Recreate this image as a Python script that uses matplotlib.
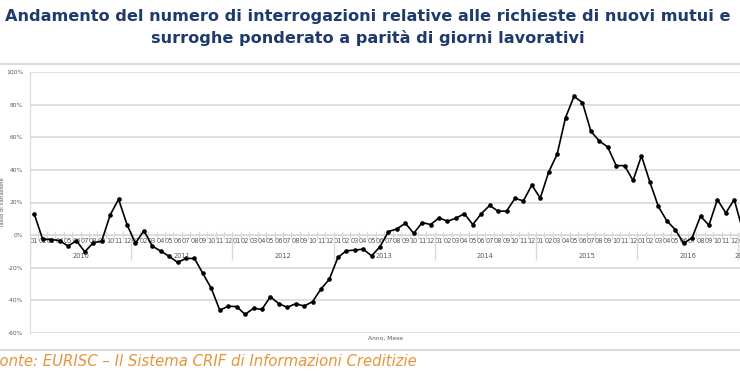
import matplotlib
matplotlib.use("Agg")
import matplotlib.pyplot as plt
from matplotlib.lines import Line2D

# Monthly year-on-year change (%) of mortgage enquiries, Jan 2010 - Jan 2017
years = ["2010", "2011", "2012", "2013", "2014", "2015", "2016", "2017"]
months = ["01", "02", "03", "04", "05", "06", "07", "08", "09", "10", "11", "12"]
v2010 = [13, -2.5, -2.7, -3.3, -6.7, -3.5, -10.2, -4.7, -3.7, 12.3, 22, 6.5]
v2011 = [-5, 2.7, -6.7, -9.8, -13, -16.7, -14.3, -14.3, -23.5, -32.7, -46, -43.6]
v2012 = [-43.8, -48.6, -44.9, -45.5, -37.8, -42, -44.3, -42, -43.5, -40.8, -33, -27]
v2013 = [-13.7, -9.6, -9.2, -8.6, -12.7, -7.1, 2.2, 3.8, 7.3, 1.1, 7.7, 6.5]
v2014 = [10.6, 8.5, 10.4, 13.1, 6.5, 13.1, 18.2, 14.7, 14.7, 22.5, 21, 30.7]
v2015 = [22.7, 38.7, 49.6, 72.1, 85, 81.3, 63.7, 57.7, 54, 42.6, 42.6, 33.5]
v2016 = [48.6, 32.5, 17.6, 8.8, 3.4, -5, -1.7, 11.6, 6.1, 21.8, 13.6, 21.8]
v2017 = [3]

values = v2010 + v2011 + v2012 + v2013 + v2014 + v2015 + v2016 + v2017
n = len(values)
xs = list(range(n))
month_labels = [months[i % 12] for i in xs]

title_col = "#1F3A6E"
grid_col = "#d9d9d9"
txt_col = "#595959"

fig = plt.figure(figsize=(7.4, 3.89), dpi=100)
# chart runs slightly past the right edge (cropped like the reference)
ax = fig.add_axes([30 / 740, 1 - 333 / 389, (29.5 + n * 8.44 - 30) / 740, 261 / 389])

ax.plot(xs, values, color="black", lw=1.2, marker="o", ms=2.3, zorder=3)

ax.set_xlim(-0.5, n - 0.5)
ax.set_ylim(-60, 100)
ax.set_yticks(range(-60, 101, 20))
ax.set_yticklabels([f"{t}%" for t in range(-60, 101, 20)], fontsize=4.3, color=txt_col)
ax.yaxis.grid(True, color=grid_col, lw=1.2)
ax.set_axisbelow(True)
ax.tick_params(axis="y", length=0, pad=5)

for s in ["top", "right"]:
    ax.spines[s].set_visible(False)
ax.spines["left"].set_color(grid_col)
ax.spines["bottom"].set_position(("data", 0))
ax.spines["bottom"].set_color(grid_col)

# month boundaries as ticks, month labels in between
ax.set_xticks([i - 0.5 for i in range(n + 1)])
ax.set_xticklabels([])
ax.tick_params(axis="x", which="major", direction="inout", length=6, color=grid_col)
ax.set_xticks(xs, minor=True)
ax.set_xticklabels(month_labels, minor=True, fontsize=4.8, color=txt_col)
ax.tick_params(axis="x", which="minor", length=0, pad=2)

# year separators and year labels
for k, y in enumerate(years):
    start = k * 12
    end = min(start + 12, n)
    ax.vlines(start - 0.5, -15, 0, color=grid_col, lw=1)
    ax.text((start + end - 1) / 2, -12.5, y, ha="center", va="center",
            fontsize=4.8, color=txt_col)

ax.set_ylabel("Tasso di variazione", fontsize=3.8, color=txt_col, labelpad=1)
fig.text(385 / 740, 1 - 340 / 389, "Anno, Mese", fontsize=4.3,
         color=txt_col, ha="center")

# frame lines around the chart
fig.add_artist(Line2D([0, 1], [1 - 64 / 389] * 2, color="#dcdcdc", lw=1.5))
fig.add_artist(Line2D([0, 1], [1 - 350 / 389] * 2, color="#dcdcdc", lw=1.5))

fig.text(368 / 740, 1 - 17 / 389,
         "Andamento del numero di interrogazioni relative alle richieste di nuovi mutui e",
         ha="center", va="center", fontsize=11.6, fontweight="bold", color=title_col)
fig.text(368 / 740, 1 - 38 / 389,
         "surroghe ponderato a parità di giorni lavorativi",
         ha="center", va="center", fontsize=11.6, fontweight="bold", color=title_col)

fig.text(-9 / 740, 1 - 362 / 389,
         "Fonte: EURISC \u2013 Il Sistema CRIF di Informazioni Creditizie",
         ha="left", va="center", fontsize=10.7, style="italic", color="#E8943A")

fig.savefig("out.png", dpi=100)
